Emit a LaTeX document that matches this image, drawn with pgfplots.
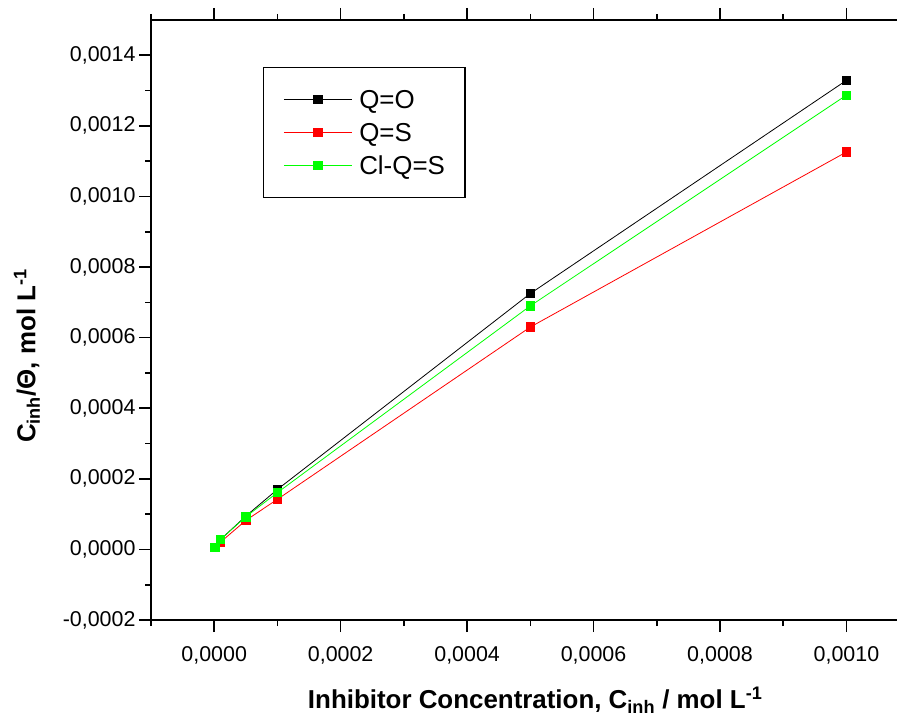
\documentclass[border=0pt]{standalone}
\usepackage{fontspec}
\setmainfont{Liberation Sans}
\usepackage{pgfplots}
\pgfplotsset{compat=1.18}
\definecolor{qgreen}{RGB}{0,255,0}
\definecolor{qred}{RGB}{255,0,0}
\begin{document}
\begin{tikzpicture}
\begin{axis}[
  name=ax,
  scale only axis,
  width=746bp, height=600bp,
  xmin=-0.0001, xmax=0.00108,
  ymin=-0.0002, ymax=0.0015,
  axis x line*=box, axis y line*=left,
  axis line style={-, line width=1.6bp},
  xtick={0,0.0002,0.0004,0.0006,0.0008,0.001},
  minor xtick={-0.0001,0.0001,0.0003,0.0005,0.0007,0.0009},
  ytick={-0.0002,0,0.0002,0.0004,0.0006,0.0008,0.001,0.0012,0.0014},
  minor ytick={-0.0001,0.0001,0.0003,0.0005,0.0007,0.0009,0.0011,0.0013},
  tick align=outside,
  major tick length=12bp, minor tick length=6bp,
  every tick/.style={black, line width=1.6bp},
  scaled ticks=false,
  /pgf/number format/fixed,
  /pgf/number format/fixed zerofill,
  /pgf/number format/precision=4,
  /pgf/number format/use comma,
  /pgf/number format/assume math mode=true,
  ticklabel style={font=\fontsize{21.5}{25}\selectfont},
  xticklabel style={yshift=-11bp},
  xlabel={Inhibitor Concentration, C\textsubscript{inh} / mol L\textsuperscript{-1}},
  ylabel={C\textsubscript{inh}/Θ, mol L\textsuperscript{-1}},
  label style={font=\fontsize{26}{30}\selectfont\bfseries},
  xlabel style={at={(ticklabel cs:0.515,16bp)}},
  ylabel style={at={(ticklabel cs:0.44,16bp)}, font=\fontsize{26}{30}\selectfont\bfseries},
  legend image code/.code={\draw[mark repeat=2, mark phase=2, #1] plot coordinates {(0bp,0bp) (34bp,0bp) (68bp,0bp)};},
  legend style={at={(axis description cs:0.150,0.922)}, anchor=north west, draw=black, line width=1.2bp,
    font=\fontsize{26}{30}\selectfont, inner xsep=20bp, inner ysep=23bp, row sep=14.5bp, column sep=7bp,
    nodes={inner sep=0pt, text height=18.5bp, text depth=0pt}, cells={anchor=west}},
]
\addplot[black, line width=0.8bp, mark=square*, mark size=4.2bp, mark options={fill=black, draw=black}]
  coordinates {(0.000001,0.0000065) (0.00001,0.000028) (0.00005,0.0000943) (0.0001,0.000170) (0.0005,0.000725) (0.001,0.001329)};
\addlegendentry{Q=O}
\addplot[qred, line width=0.8bp, mark=square*, mark size=4.2bp, mark options={fill=qred, draw=qred}]
  coordinates {(0.000001,0.0000050) (0.00001,0.0000207) (0.00005,0.0000822) (0.0001,0.000142) (0.0005,0.000630) (0.001,0.001126)};
\addlegendentry{Q=S}
\addplot[qgreen, line width=0.8bp, mark=square*, mark size=4.2bp, mark options={fill=qgreen, draw=qgreen}]
  coordinates {(0.000001,0.0000065) (0.00001,0.0000283) (0.00005,0.0000926) (0.0001,0.000161) (0.0005,0.000690) (0.001,0.001287)};
\addlegendentry{Cl-Q=S}
\end{axis}
\pgfresetboundingbox
\path[use as bounding box] ([shift={(-151bp,-99bp)}]ax.south west) rectangle ([shift={(0bp,20bp)}]ax.north east);
\end{tikzpicture}
\end{document}
